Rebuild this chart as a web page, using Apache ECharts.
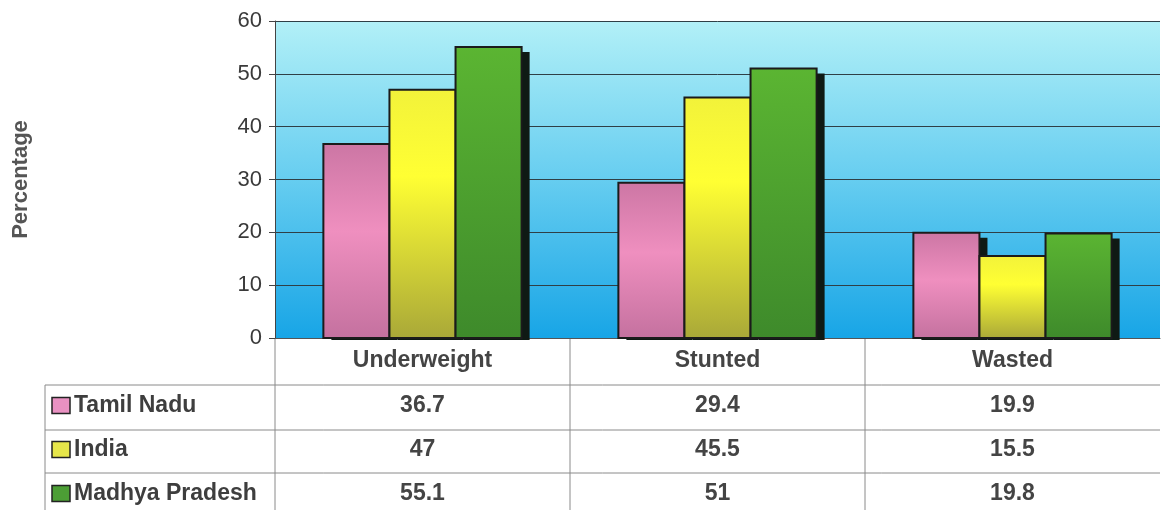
<!DOCTYPE html>
<html><head><meta charset="utf-8">
<script src="https://cdn.jsdelivr.net/npm/echarts@6/dist/echarts.min.js"></script>
<style>html,body{margin:0;padding:0;background:#fff}#c{width:1161px;height:510px}</style>
</head><body><div id="c"></div>
<script>
const categories = ['Underweight', 'Stunted', 'Wasted'];
const seriesNames = ['Tamil Nadu', 'India', 'Madhya Pradesh'];
const tamilNadu = [36.7, 29.4, 19.9];
const india = [47, 45.5, 15.5];
const madhyaPradesh = [55.1, 51, 19.8];
const tableLabels = [['36.7', '29.4', '19.9'], ['47', '45.5', '15.5'], ['55.1', '51', '19.8']];
const yTicks = [0, 10, 20, 30, 40, 50, 60];

const FONT = '"Liberation Sans", Arial, sans-serif';
const grad = (stops) => ({ type: 'linear', x: 0, y: 0, x2: 0, y2: 1,
  colorStops: stops.map(s => ({ offset: s[0], color: s[1] })) });
const barFills = [
  grad([[0, '#cc76a4'], [0.45, '#ef8fbf'], [1, '#c4719f']]),
  grad([[0, '#f2f23a'], [0.35, '#ffff33'], [1, '#a9a838']]),
  grad([[0, '#5bb532'], [1, '#3e8a2b']])
];
const legendFills = ['#e991c2', '#e6e64a', '#4c9e35'];
const seriesData = [tamilNadu, india, madhyaPradesh];

const chart = echarts.init(document.getElementById('c'), null, { renderer: 'canvas' });
const gridLeft = 275, gridTop = 21, gridBottomY = 338;

function barSeries(i) {
  return {
    type: 'custom', name: seriesNames[i],
    data: seriesData[i].map((v, c) => [c, v]),
    encode: { x: 0, y: 1 },
    clip: false,
    renderItem: (params, api) => {
      const c = api.value(0), v = api.value(1);
      const top = api.coord([c, v]);
      const base = api.coord([c, 0]);
      const band = api.size([1, 0])[0];
      const bw = band * 0.224;
      const x0 = top[0] - 1.5 * bw + i * bw;
      const h = base[1] - top[1];
      return { type: 'group', children: [
        { type: 'rect', shape: { x: x0 + 8, y: top[1] + 5, width: bw, height: h - 3 },
          style: { fill: '#0f1a14' } },
        { type: 'rect', shape: { x: x0, y: top[1], width: bw, height: h },
          style: { fill: barFills[i], stroke: '#1b1b1b', lineWidth: 2 } }
      ] };
    }
  };
}

chart.setOption({
  animation: false,
  backgroundColor: '#ffffff',
  grid: {
    left: gridLeft, right: 1, top: gridTop, bottom: 510 - gridBottomY,
    show: true, borderWidth: 0,
    backgroundColor: grad([[0, '#b2f0f7'], [0.5, '#66cdf0'], [1, '#18a5e6']])
  },
  xAxis: {
    type: 'category', data: categories,
    axisLine: { show: true, lineStyle: { color: '#555', width: 1 } },
    axisTick: { show: false },
    axisLabel: { margin: 11, fontFamily: FONT, fontSize: 23, fontWeight: 'bold', color: '#444' }
  },
  yAxis: {
    type: 'value', min: 0, max: 60, interval: 10,
    name: 'Percentage', nameLocation: 'middle', nameRotate: 90, nameGap: 243,
    nameTextStyle: { fontFamily: FONT, fontSize: 22, fontWeight: 'bold', color: '#555' },
    axisLine: { show: true, lineStyle: { color: '#444', width: 1 } },
    axisTick: { show: true, length: 6, lineStyle: { color: '#444' } },
    axisLabel: { margin: 13, fontFamily: FONT, fontSize: 22, color: '#3a3a3a',
      formatter: v => yTicks.includes(v) ? String(v) : '' },
    splitLine: { show: true, lineStyle: { color: '#2f3f46', width: 1 } }
  },
  series: seriesNames.map((n, i) => barSeries(i))
});

// data table below the plot
const centers = categories.map((c, i) => chart.convertToPixel({ xAxisIndex: 0 }, i));
const step = centers[1] - centers[0];
const bandEdges = [];
for (let i = 0; i <= categories.length; i++) bandEdges.push(centers[0] - step / 2 + i * step);
const tableLeft = 45, rowLines = [385, 430, 473, 518], lineColor = '#8a8a8a';
const g = [];
bandEdges.slice(0, 3).forEach(x => g.push({ type: 'line', shape: { x1: x, y1: gridBottomY, x2: x, y2: 510 },
  style: { stroke: lineColor, lineWidth: 1 }, silent: true }));
g.push({ type: 'line', shape: { x1: tableLeft, y1: rowLines[0], x2: tableLeft, y2: 510 },
  style: { stroke: lineColor, lineWidth: 1 } });
rowLines.slice(0, 3).forEach(y => g.push({ type: 'line',
  shape: { x1: tableLeft, y1: y, x2: bandEdges[bandEdges.length - 1], y2: y },
  style: { stroke: lineColor, lineWidth: 1 } }));
seriesNames.forEach((name, r) => {
  const cy = (rowLines[r] + rowLines[r + 1]) / 2 - 2;
  g.push({ type: 'rect', shape: { x: 52, y: cy - 8, width: 18, height: 16 },
    style: { fill: legendFills[r], stroke: '#222', lineWidth: 1.5 } });
  g.push({ type: 'text', x: 74, y: cy, style: { text: name, font: 'bold 23px ' + FONT,
    fill: '#3e3e3e', verticalAlign: 'middle', align: 'left' } });
  tableLabels[r].forEach((t, c) => g.push({ type: 'text', x: centers[c], y: cy,
    style: { text: t, font: 'bold 23px ' + FONT, fill: '#444', align: 'center', verticalAlign: 'middle' } }));
});
chart.setOption({ graphic: g });
</script></body></html>
